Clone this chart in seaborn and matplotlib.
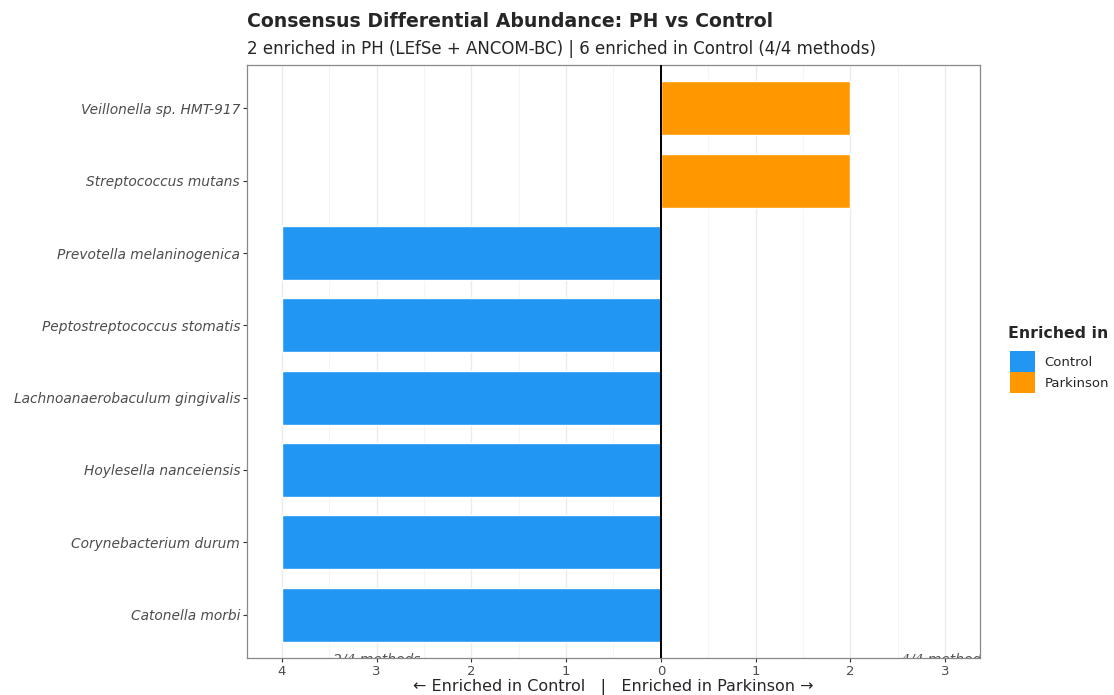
import pandas as pd
import seaborn as sns
import matplotlib.pyplot as plt
from matplotlib.patches import Patch

species = [
    'Veillonella sp. HMT-917',
    'Streptococcus mutans',
    'Prevotella melaninogenica',
    'Peptostreptococcus stomatis',
    'Lachnoanaerobaculum gingivalis',
    'Hoylesella nanceiensis',
    'Corynebacterium durum',
    'Catonella morbi',
]
n_methods = [2, 2, 4, 4, 4, 4, 4, 4]
enriched = ['Parkinson', 'Parkinson', 'Control', 'Control', 'Control',
            'Control', 'Control', 'Control']
colors = {'Control': '#2196F3', 'Parkinson': '#FF9800'}
tick_vals = [-4, -3, -2, -1, 0, 1, 2, 3]
notes = [(-3, '2/4 methods'), (3, '4/4 methods')]

df = pd.DataFrame({'species': species, 'methods': n_methods, 'group': enriched})
df['score'] = [m if g == 'Parkinson' else -m for m, g in zip(df['methods'], df['group'])]

sns.set_style('white')
plt.rcParams['font.family'] = ['DejaVu Sans']

fig = plt.figure(figsize=(11.14, 6.95), dpi=100)
ax = fig.add_axes([0.2217, 0.0532, 0.658, 0.8533])

sns.barplot(data=df, x='score', y='species', hue='group', palette=colors,
            dodge=False, width=0.75, orient='h', legend=False, ax=ax,
            saturation=1, zorder=2)

ax.set_xticks(tick_vals)
ax.set_xticklabels([str(abs(v)) for v in tick_vals])
ax.set_xticks([v + 0.5 for v in tick_vals[:-1]], minor=True)
ax.set_xlim(-4.37, 3.37)
ax.set_ylim(len(species) - 0.4, -0.6)
ax.grid(True, axis='x', which='major', color='#EBEBEB', lw=1.0, zorder=0)
ax.grid(True, axis='x', which='minor', color='#F3F3F3', lw=0.6, zorder=0)
ax.set_axisbelow(True)
ax.axvline(0, color='black', lw=1.4, zorder=3)

ax.tick_params(axis='both', which='major', length=3, color='#333333',
               labelcolor='#4D4D4D', labelsize=9.5, bottom=True, left=True, pad=2)
ax.tick_params(axis='y', which='major', labelsize=9.9)
ax.tick_params(axis='x', which='minor', length=0)
for lab in ax.get_yticklabels():
    lab.set_fontstyle('italic')
for s in ax.spines.values():
    s.set_color('#888888')
    s.set_linewidth(0.9)

ax.set_ylabel('')
ax.set_xlabel('\u2190 Enriched in Control   |   Enriched in Parkinson \u2192',
              fontsize=11.5, labelpad=1)

for x, txt in notes:
    ax.text(x, len(species) - 0.47, txt, ha='center', va='top', fontsize=10,
            style='italic', color='#555555', clip_on=True)

fig.text(0.2217, 0.955, 'Consensus Differential Abundance: PH vs Control',
         fontsize=13.6, fontweight='bold', ha='left', va='bottom')
fig.text(0.2217, 0.917, '2 enriched in PH (LEfSe + ANCOM-BC) | 6 enriched in Control (4/4 methods)',
         fontsize=12, ha='left', va='bottom')

# legend title drawn apart so the gap to the keys matches
fig.text(0.905, 1 - 333 / 695, 'Enriched in', fontsize=11.3, fontweight='bold',
         ha='left', va='center')
handles = [Patch(facecolor=colors[k], edgecolor='none', label=k) for k in colors]
leg = fig.legend(handles=handles, loc='upper left',
                 bbox_to_anchor=(0.896, 1 - 339 / 695), frameon=False, fontsize=9.5,
                 handlelength=1.9, handleheight=2.1, handletextpad=0.7,
                 labelspacing=0.0)

fig.savefig('out.png', dpi=100)
